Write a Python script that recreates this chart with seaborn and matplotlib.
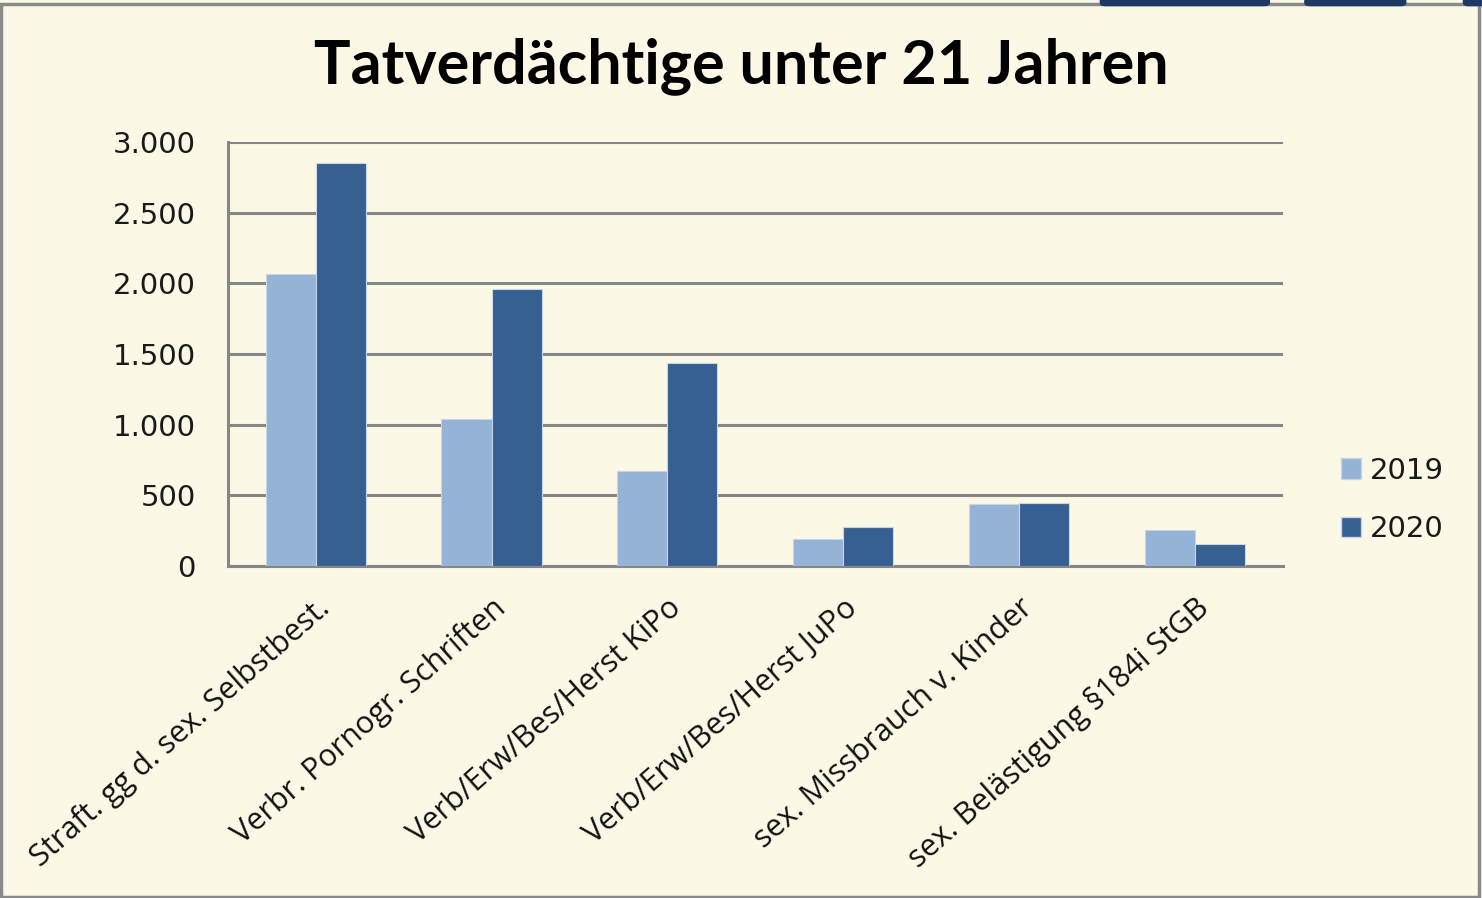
import numpy as np
import pandas as pd
import matplotlib.pyplot as plt
import matplotlib.patches as mpatches
import matplotlib.transforms as mtransforms
from matplotlib.ticker import FixedLocator
import seaborn as sns

sns.set_style("white")
plt.rcParams['font.family'] = ['DejaVu Sans']

categories = ['Straft. gg d. sex. Selbstbest.', 'Verbr. Pornogr. Schriften',
              'Verb/Erw/Bes/Herst KiPo', 'Verb/Erw/Bes/Herst JuPo',
              'sex. Missbrauch v. Kinder', 'sex. Belästigung §184i StGB']
years = ['2019', '2020']
values_2019 = [2065, 1042, 670, 189, 436, 257]
values_2020 = [2850, 1962, 1434, 278, 448, 156]
y_ticks = [0, 500, 1000, 1500, 2000, 2500, 3000]
y_labels = ['0', '500', '1.000', '1.500', '2.000', '2.500', '3.000']

bg = '#FCF8E6'
grey = '#868686'
colors = ['#95B3D7', '#366092']

df = pd.DataFrame({
    'Kategorie': categories * 2,
    'Jahr': ['2019'] * len(categories) + ['2020'] * len(categories),
    'Anzahl': values_2019 + values_2020,
})

fig = plt.figure(figsize=(14.82, 8.98), dpi=100, facecolor=bg)
ax = fig.add_axes([0.1538, 0.3697, 0.8654 - 0.1538, 0.8419 - 0.3697])
ax.set_facecolor(bg)

sns.barplot(data=df, x='Kategorie', y='Anzahl', hue='Jahr', palette=colors,
            saturation=1, width=0.57, edgecolor='#C8D5E6', linewidth=0.8, ax=ax,
            legend=False, zorder=3)

ax.set_xlim(-0.5, len(categories) - 0.5)
ax.set_ylim(0, 3000)
ax.set_yticks(y_ticks)
ax.set_yticklabels(y_labels, fontsize=21, color='#1a1a1a')
ax.yaxis.grid(True, color=grey, linewidth=2.2, zorder=0)
ax.set_axisbelow(True)
ax.set_xlabel('')
ax.set_ylabel('')

# ticks between the groups
ax.xaxis.set_minor_locator(FixedLocator(np.arange(-0.5, len(categories), 1.0)))
ax.tick_params(axis='x', which='major', length=0, pad=6)
ax.tick_params(axis='x', which='minor', length=9, width=2.2, color=grey)
ax.tick_params(axis='y', length=9, width=2.2, color=grey, pad=14)
ax.set_xticks(range(len(categories)))
ax.set_xticklabels(categories, rotation=41.5, ha='right', va='center',
                   rotation_mode='anchor', fontsize=22,
                   family=['Open Sans', 'DejaVu Sans'], color='#111111')
offset = mtransforms.ScaledTranslation(0.1, -0.3, fig.dpi_scale_trans)
for lab in ax.get_xticklabels():
    lab.set_transform(lab.get_transform() + offset)

for side in ['top', 'right']:
    ax.spines[side].set_visible(False)
for side in ['left', 'bottom']:
    ax.spines[side].set_color(grey)
    ax.spines[side].set_linewidth(2.2)

handles = [mpatches.Patch(facecolor=c, edgecolor='#C8D5E6', label=y)
           for c, y in zip(colors, years)]
fig.legend(handles=handles, loc='center left', bbox_to_anchor=(0.887, 0.443),
           frameon=False, fontsize=21, handlelength=0.7, handleheight=0.7,
           handletextpad=0.3, labelspacing=1.05, labelcolor='#1a1a1a')

fig.text(0.5, 0.926, 'Tatverdächtige unter 21 Jahren', ha='center', va='center',
         fontsize=44, fontweight='bold', color='black',
         family=['Lato', 'DejaVu Sans'])

# slide frame and decorations
fig.patches.append(mpatches.Rectangle((0.001, 0.001), 0.997, 0.995, transform=fig.transFigure,
                                      fill=False, edgecolor='#8a8a8a', linewidth=2.5))
for x0, w in [(0.742, 0.115), (0.880, 0.069), (0.987, 0.02)]:
    fig.patches.append(mpatches.FancyBboxPatch((x0, 0.993), w, 0.01, transform=fig.transFigure,
                                               boxstyle='round,pad=0,rounding_size=0.004',
                                               facecolor='#1F3864', edgecolor='none'))

fig.savefig('out.png', dpi=100, facecolor=bg)
